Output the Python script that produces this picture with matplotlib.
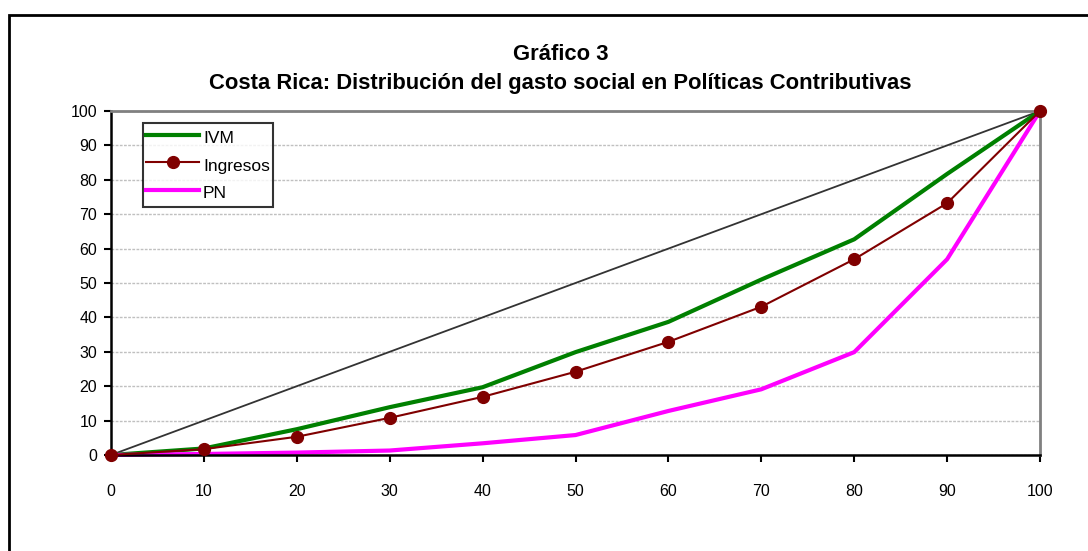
import matplotlib.pyplot as plt
from matplotlib.patches import Rectangle

# datos del gráfico (percentiles acumulados)
x = [0, 10, 20, 30, 40, 50, 60, 70, 80, 90, 100]
igualdad = [0, 10, 20, 30, 40, 50, 60, 70, 80, 90, 100]
ivm = [0, 1.9, 7.5, 13.9, 19.7, 29.9, 38.7, 51, 62.7, 81.7, 100]
ingresos = [0, 1.7, 5.3, 10.8, 16.9, 24.2, 32.9, 43.1, 56.9, 73.2, 100]
pn = [0, 0.3, 0.7, 1.3, 3.4, 5.8, 12.8, 19.1, 29.9, 56.9, 100]

plt.rcParams['font.family'] = ['Liberation Sans', 'DejaVu Sans']

fig = plt.figure(figsize=(10.88, 5.51), dpi=100)
ax = fig.add_axes([111 / 1088, 1 - 455 / 551, (1040 - 111) / 1088, (455 - 111) / 551])

# marco exterior
fig.patches.append(Rectangle((9 / 1088, -0.1), 1.2, 1 - 15 / 551 + 0.1,
                             transform=fig.transFigure, fill=False,
                             edgecolor='black', linewidth=2))

ax.plot(x, igualdad, color='#333333', lw=1.3, label='_nolegend_')
ax.plot(x, ivm, color='#008000', lw=3, label='IVM', clip_on=False)
ax.plot(x, ingresos, color='#800000', lw=1.5, marker='o', markersize=8.5,
        label='Ingresos', clip_on=False, zorder=4)
ax.plot(x, pn, color='#FF00FF', lw=3, label='PN', clip_on=False)

ax.set_xlim(0, 100)
ax.set_ylim(0, 100)
ax.set_xticks(range(0, 101, 10))
ax.set_yticks(range(0, 101, 10))
ax.tick_params(labelsize=11.5, direction='out', length=5, width=1.5)
ax.tick_params(axis='x', pad=16)
ax.tick_params(axis='y', pad=5)

ax.yaxis.grid(True, color='#c0c0c0', linestyle=(0, (2, 1)), lw=1)
ax.set_axisbelow(True)
for s in ['left', 'bottom']:
    ax.spines[s].set_linewidth(1.8)
    ax.spines[s].set_color('black')
for s in ['top', 'right']:
    ax.spines[s].set_linewidth(2)
    ax.spines[s].set_color('#808080')

leg = ax.legend(loc='upper left', bbox_to_anchor=(32 / 929, 1 - 12 / 344),
                fontsize=12.5, frameon=True, fancybox=False,
                handlelength=3.0, handletextpad=0.25, borderpad=0.2,
                handleheight=1.6, labelspacing=0.3, borderaxespad=0)
leg.get_frame().set_edgecolor('black')
leg.get_frame().set_linewidth(1.5)

fig.text(0.515, 1 - 54 / 551, 'Gráfico 3', ha='center', va='center',
         fontsize=15.8, fontweight='bold')
fig.text(0.515, 1 - 83 / 551,
         'Costa Rica: Distribución del gasto social en Políticas Contributivas',
         ha='center', va='center', fontsize=15.8, fontweight='bold')

fig.savefig('out.png', dpi=100)
